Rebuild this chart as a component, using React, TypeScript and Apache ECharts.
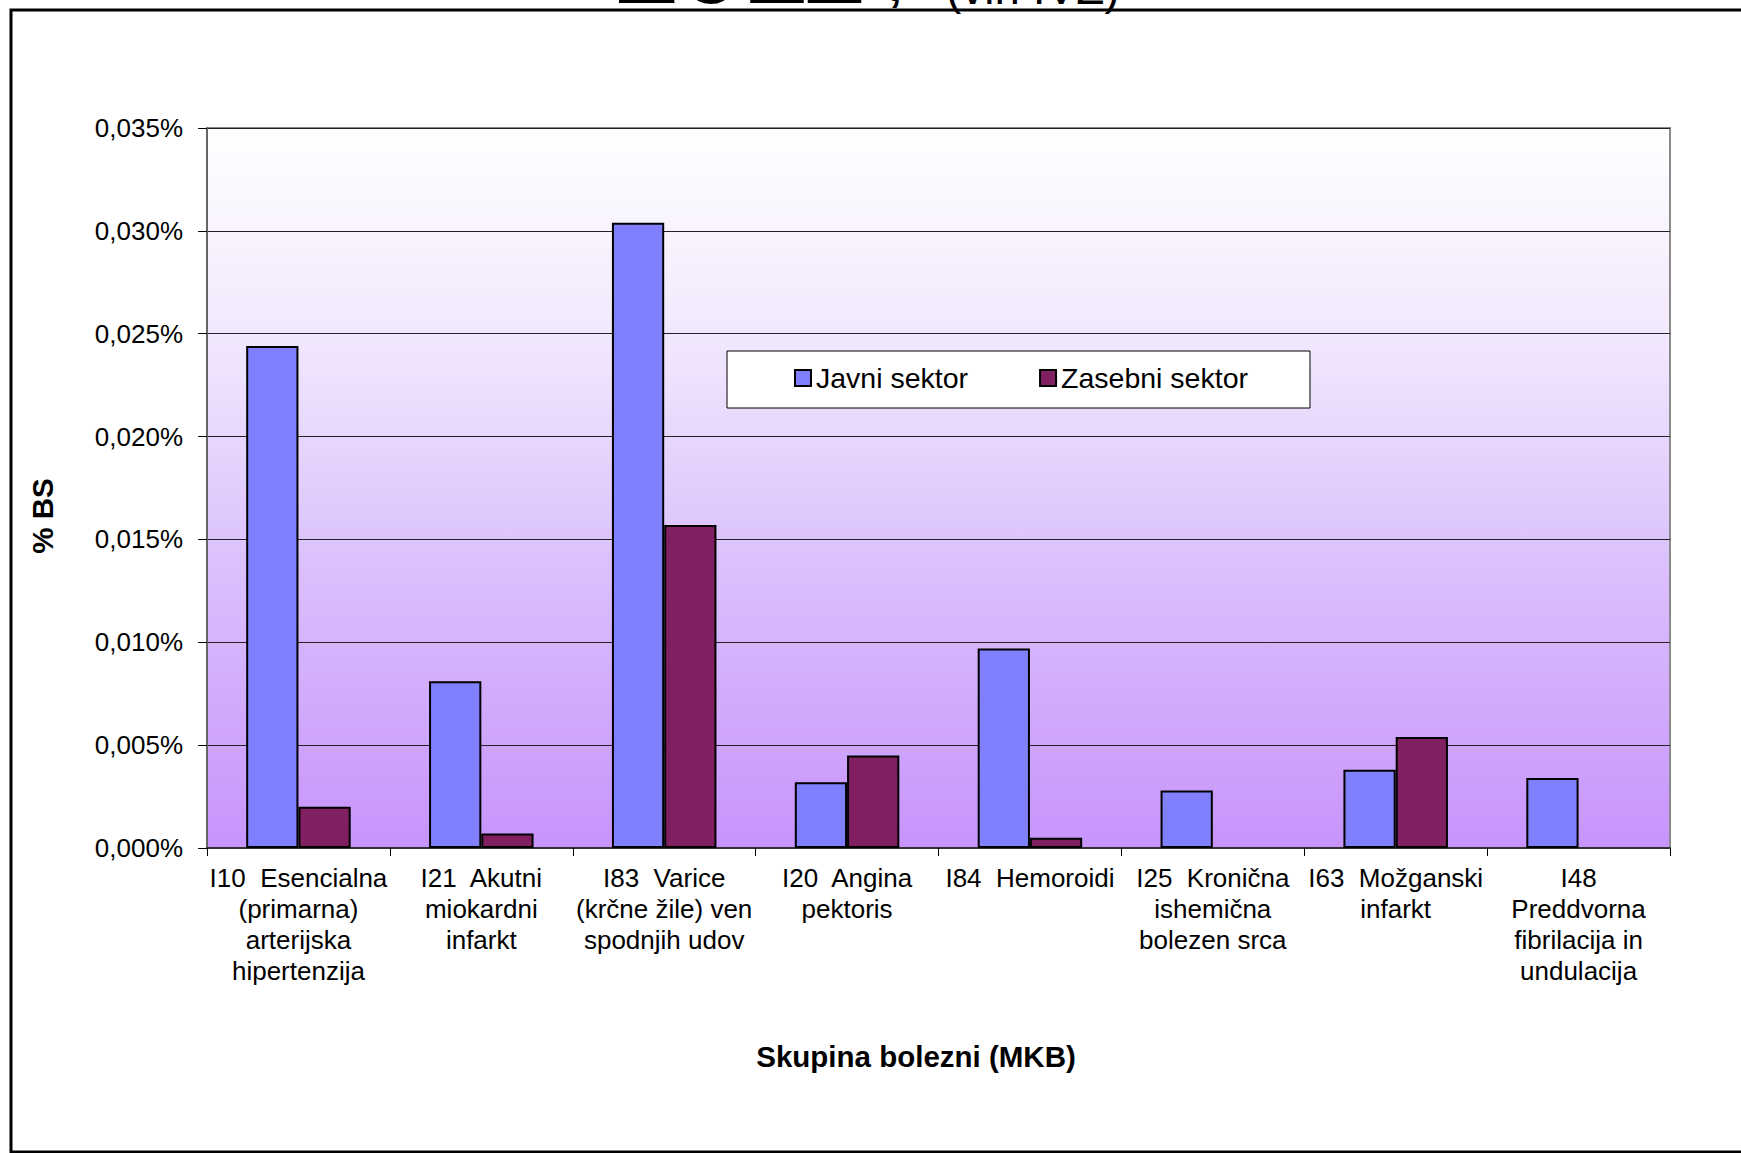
import React, { useEffect, useRef } from "react";
import * as echarts from "echarts";

const categories: string[] = [
  "I10  Esencialna\n(primarna)\narterijska\nhipertenzija",
  "I21  Akutni\nmiokardni\ninfarkt",
  "I83  Varice\n(krčne žile) ven\nspodnjih udov",
  "I20  Angina\npektoris",
  "I84  Hemoroidi",
  "I25  Kronična\nishemična\nbolezen srca",
  "I63  Možganski\ninfarkt",
  "I48\nPreddvorna\nfibrilacija in\nundulacija",
];

const seriesNames: string[] = ["Javni sektor", "Zasebni sektor"];
const javniSektor: (number | null)[] = [0.0244, 0.0081, 0.0304, 0.0032, 0.0097, 0.0028, 0.0038, 0.0034];
const zasebniSektor: (number | null)[] = [0.002, 0.0007, 0.0157, 0.0045, 0.0005, null, 0.0054, null];

const yMin = 0;
const yMax = 0.035;
const yStep = 0.005;

const titleMain = "2011";
const titleComma = ",";
const titleSub = "(viri IVZ)";
const yAxisName = "% BS";
const xAxisName = "Skupina bolezni (MKB)";

const FONT = "'Liberation Sans', Arial, Helvetica, sans-serif";

export default function App() {
  const ref = useRef<HTMLDivElement>(null);

  useEffect(() => {
    document.body.style.margin = "0";
    const chart = echarts.init(ref.current as HTMLDivElement, null, { renderer: "svg" });
    chart.setOption({
      animation: false,
      backgroundColor: "#ffffff",
      textStyle: { fontFamily: FONT },
      grid: {
        left: 207,
        right: 71,
        top: 128,
        bottom: 305,
        show: true,
        containLabel: false,
        backgroundColor: new echarts.graphic.LinearGradient(0, 0, 0, 1, [
          { offset: 0, color: "#ffffff" },
          { offset: 0.3, color: "#f1e7fd" },
          { offset: 0.6, color: "#dbc1fc" },
          { offset: 1, color: "#c794fc" },
        ]),
        borderColor: "#8a8a8a",
        borderWidth: 2,
      },
      legend: {
        show: true,
        left: 727,
        top: 351,
        orient: "horizontal",
        padding: [12, 62, 15, 67],
        itemGap: 71,
        itemWidth: 16,
        itemHeight: 16,
        icon: "rect",
        backgroundColor: "#ffffff",
        borderColor: "#000000",
        borderWidth: 1,
        borderRadius: 0,
        selectedMode: false,
        itemStyle: { borderColor: "#000000", borderWidth: 2 },
        textStyle: { fontSize: 28.5, color: "#000000", fontFamily: FONT, lineHeight: 30 },
        data: seriesNames,
      },
      xAxis: {
        type: "category",
        data: categories,
        boundaryGap: true,
        axisLine: { show: true, lineStyle: { color: "#333333", width: 2 } },
        axisTick: { show: true, length: 8, lineStyle: { color: "#000000", width: 1 } },
        axisLabel: {
          interval: 0,
          margin: 14,
          fontSize: 26,
          lineHeight: 31,
          color: "#000000",
          fontFamily: FONT,
          align: "center",
        },
        splitLine: { show: false },
      },
      yAxis: {
        type: "value",
        min: yMin,
        max: yMax,
        interval: yStep,
        axisLine: { show: true, lineStyle: { color: "#666666", width: 2 } },
        axisTick: { show: true, length: 9, lineStyle: { color: "#000000", width: 1 } },
        axisLabel: {
          margin: 24,
          fontSize: 26,
          color: "#000000",
          fontFamily: FONT,
          formatter: (v: number) => v.toFixed(3).replace(".", ",") + "%",
        },
        splitLine: { show: true, lineStyle: { color: "#222222", width: 1 } },
      },
      series: [
        {
          name: seriesNames[0],
          type: "bar",
          data: javniSektor,
          barGap: "0%",
          barCategoryGap: "42.86%",
          itemStyle: { color: "#8080ff", borderColor: "#000000", borderWidth: 2 },
        },
        {
          name: seriesNames[1],
          type: "bar",
          data: zasebniSektor,
          barGap: "0%",
          barCategoryGap: "42.86%",
          itemStyle: { color: "#802060", borderColor: "#000000", borderWidth: 2 },
        },
      ],
      graphic: [
        {
          type: "rect",
          silent: true,
          z: 100,
          shape: { x: 11, y: 10, width: 1800, height: 1142 },
          style: { fill: "none", stroke: "#000000", lineWidth: 3 },
        },
        {
          type: "text",
          silent: true,
          x: 615,
          y: -37,
          style: {
            text: titleMain,
            font: `bold 115px ${FONT}`,
            fill: "#000000",
            align: "left",
            verticalAlign: "middle",
            textAlign: "left",
            textVerticalAlign: "middle",
          },
        },
        {
          type: "text",
          silent: true,
          x: 889,
          y: -15,
          style: {
            text: titleComma,
            font: `bold 46px ${FONT}`,
            fill: "#000000",
            align: "left",
            verticalAlign: "middle",
            textAlign: "left",
            textVerticalAlign: "middle",
          },
        },
        {
          type: "text",
          silent: true,
          x: 946,
          y: -12,
          style: {
            text: titleSub,
            font: `46px ${FONT}`,
            fill: "#000000",
            align: "left",
            verticalAlign: "middle",
            textAlign: "left",
            textVerticalAlign: "middle",
          },
        },
        {
          type: "text",
          silent: true,
          x: 42,
          y: 516,
          rotation: Math.PI / 2,
          style: {
            text: yAxisName,
            font: `bold 29.5px ${FONT}`,
            fill: "#000000",
            align: "center",
            verticalAlign: "middle",
            textAlign: "center",
            textVerticalAlign: "middle",
          },
        },
        {
          type: "text",
          silent: true,
          x: 916,
          y: 1056,
          style: {
            text: xAxisName,
            font: `bold 29.5px ${FONT}`,
            fill: "#000000",
            align: "center",
            verticalAlign: "middle",
            textAlign: "center",
            textVerticalAlign: "middle",
          },
        },
      ],
    });
    return () => chart.dispose();
  }, []);

  return <div ref={ref} style={{ width: 1741, height: 1153 }} />;
}
